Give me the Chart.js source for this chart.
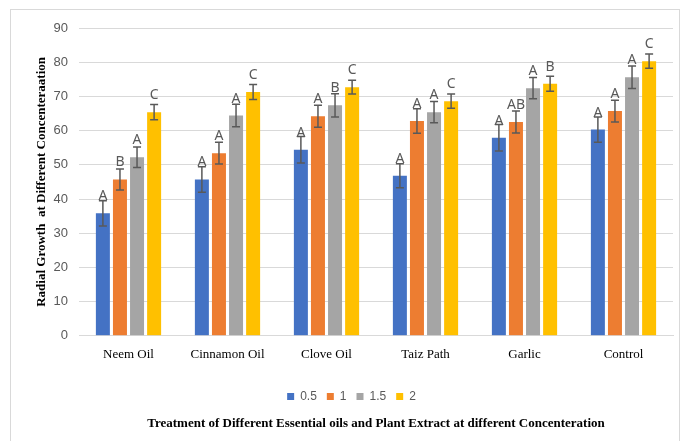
<!DOCTYPE html>
<html>
<head>
<meta charset="utf-8">
<script src="https://cdn.jsdelivr.net/npm/chart.js@4/dist/chart.umd.min.js"></script>
<style>
  body { margin: 0; background: #fff; }
  canvas { display: block; }
</style>
</head>
<body>
<canvas id="growthChart" width="681" height="441"></canvas>
<script>
const categories = ["Neem Oil", "Cinnamon Oil", "Clove Oil", "Taiz Path", "Garlic", "Control"];
const seriesNames = ["0.5", "1", "1.5", "2"];

const conc05 = [35.8, 45.7, 54.4, 46.8, 57.9, 60.3];
const conc1 = [45.7, 53.4, 64.2, 62.8, 62.5, 65.7];
const conc15 = [52.2, 64.4, 67.4, 65.4, 72.4, 75.6];
const conc2 = [65.4, 71.3, 72.7, 68.6, 73.7, 80.3];

const err05 = [3.7, 3.7, 3.9, 3.5, 3.9, 3.7];
const err1 = [3.1, 3.2, 3.2, 3.6, 3.2, 3.2];
const err15 = [3.0, 3.3, 3.4, 3.1, 3.1, 3.3];
const err2 = [2.2, 2.2, 2.0, 2.1, 2.2, 2.1];

const letters05 = ["A", "A", "A", "A", "A", "A"];
const letters1 = ["B", "A", "A", "A", "AB", "A"];
const letters15 = ["A", "A", "B", "A", "A", "A"];
const letters2 = ["C", "C", "C", "C", "B", "C"];

const yTicks = [0, 10, 20, 30, 40, 50, 60, 70, 80, 90];

const colors = ["#4472C4", "#ED7D31", "#A5A5A5", "#FFC000"];
const values = [conc05, conc1, conc15, conc2];
const errors = [err05, err1, err15, err2];
const letters = [letters05, letters1, letters15, letters2];

// error bars + significance letters on top of each bar
const errorBarPlugin = {
  id: "errorBars",
  afterDatasetsDraw(chart) {
    const ctx = chart.ctx;
    const y = chart.scales.y;
    ctx.save();
    chart.data.datasets.forEach((ds, i) => {
      const meta = chart.getDatasetMeta(i);
      meta.data.forEach((bar, j) => {
        const v = ds.data[j];
        const e = errors[i][j];
        const top = y.getPixelForValue(v + e);
        const bottom = y.getPixelForValue(v - e);
        ctx.strokeStyle = "#595959";
        ctx.lineWidth = 1.5;
        ctx.beginPath();
        ctx.moveTo(bar.x, top);
        ctx.lineTo(bar.x, bottom);
        ctx.moveTo(bar.x - 4, top);
        ctx.lineTo(bar.x + 4, top);
        ctx.moveTo(bar.x - 4, bottom);
        ctx.lineTo(bar.x + 4, bottom);
        ctx.stroke();

        ctx.fillStyle = "#595959";
        ctx.font = "14px 'Noto Sans'";
        ctx.textAlign = "center";
        ctx.textBaseline = "middle";
        ctx.fillText(letters[i][j], bar.x, y.getPixelForValue(v) - 17);
      });
    });
    ctx.restore();
  }
};

const framePlugin = {
  id: "frame",
  beforeDraw(chart) {
    const ctx = chart.ctx;
    ctx.save();
    ctx.fillStyle = "#fff";
    ctx.fillRect(0, 0, chart.width, chart.height);
    ctx.strokeStyle = "#d9d9d9";
    ctx.lineWidth = 1;
    ctx.strokeRect(10.5, 9.5, 669, 440);
    ctx.restore();
  }
};

new Chart(document.getElementById("growthChart"), {
  type: "bar",
  data: {
    labels: categories,
    datasets: seriesNames.map((name, i) => ({
      label: name,
      data: values[i],
      backgroundColor: colors[i],
      borderWidth: 0,
      barPercentage: 0.82,
      categoryPercentage: 0.69
    }))
  },
  options: {
    responsive: false,
    animation: false,
    layout: { padding: { left: 30, right: 8, top: 28, bottom: 4 } },
    scales: {
      x: {
        grid: { display: false, drawTicks: false },
        border: { color: "#d9d9d9" },
        afterFit(scale) { scale.height = 44.6; },
        ticks: {
          color: "#000",
          padding: 11,
          font: { family: "Liberation Serif", size: 13 }
        }
      },
      y: {
        min: 0,
        max: 90,
        afterBuildTicks(scale) {
          scale.ticks = yTicks.map((v) => ({ value: v }));
        },
        afterFit(scale) { scale.width = 49; },
        grid: { color: "#d9d9d9", drawTicks: false },
        border: { display: false },
        ticks: {
          color: "#595959",
          padding: 11,
          font: { family: "Liberation Sans", size: 13 }
        },
        title: {
          display: true,
          text: "Radial Growth  at Different Concenteraation",
          color: "#000",
          font: { family: "Liberation Serif", size: 13, weight: "bold" }
        }
      }
    },
    plugins: {
      legend: {
        position: "bottom",
        labels: {
          boxWidth: 7,
          boxHeight: 7,
          padding: 10,
          color: "#595959",
          font: { family: "Liberation Sans", size: 12 }
        }
      },
      title: {
        display: true,
        position: "bottom",
        fullSize: false,
        text: "Treatment of Different Essential oils and Plant Extract at different Concenteration",
        color: "#000",
        font: { family: "Liberation Serif", size: 13, weight: "bold" },
        padding: { top: 3, bottom: 6 }
      },
      tooltip: { enabled: false }
    }
  },
  plugins: [framePlugin, errorBarPlugin]
});
</script>
</body>
</html>
